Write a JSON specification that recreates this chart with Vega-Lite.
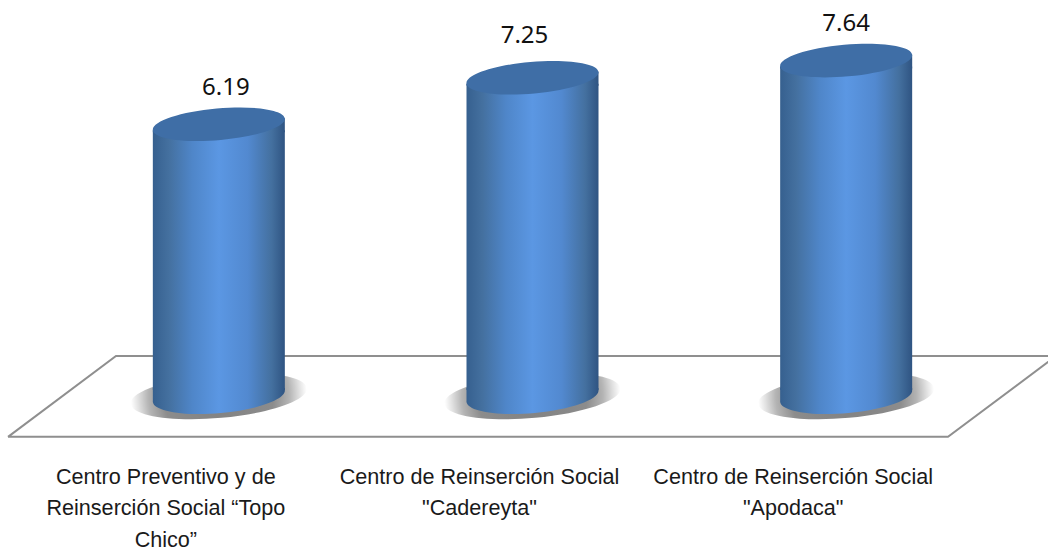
{
"$schema":"https://vega.github.io/schema/vega-lite/v6.json",
"width":1048,"height":550,"padding":0,"autosize":{"type":"none"},
"background":"white",
"config":{"view":{"stroke":null}},
"data":{"values":[
{"centro":"Centro Preventivo y de|Reinserción Social “Topo|Chico”","valor":6.19,"base":0},
{"centro":"Centro de Reinserción Social|\"Cadereyta\"","valor":7.25,"base":0},
{"centro":"Centro de Reinserción Social|\"Apodaca\"","valor":7.64,"base":0}
]},
"encoding":{
"x":{"field":"centro","type":"nominal","sort":null,"axis":null,"scale":{"type":"band","padding":0,"range":[62,1003],"domain":["Centro Preventivo y de|Reinserción Social “Topo|Chico”","Centro de Reinserción Social|\"Cadereyta\"","Centro de Reinserción Social|\"Apodaca\""]}},
"y":{"field":"valor","type":"quantitative","axis":null,"scale":{"domain":[0,9.02],"range":[396,0],"nice":false,"zero":false}}
},
"layer":[
{"data":{"values":[{"fx":8,"fy":-0.93,"o":1},{"fx":116,"fy":0.91,"o":2},{"fx":1056,"fy":0.91,"o":3},{"fx":948,"fy":-0.93,"o":4},{"fx":8,"fy":-0.93,"o":5}]},
 "mark":{"type":"line","stroke":"#8f8f8f","strokeWidth":2,"clip":false},
 "encoding":{"x":{"field":"fx","type":"quantitative","axis":null,"scale":{"domain":[0,1048],"range":[0,1048],"nice":false,"zero":false}},"y":{"field":"fy","type":"quantitative"},"order":{"field":"o","type":"quantitative"}}},
{"mark":{"type":"point","filled":true,"opacity":1,"stroke":null,"strokeWidth":0,"shape":"M-1,0.09 A1.004,0.25 -5 1 1 1,-0.09 A1.004,0.25 -5 1 1 -1,0.09 Z","size":31000,"fill":{"gradient":"radial","x1":0.5,"y1":0.5,"r1":0,"x2":0.5,"y2":0.5,"r2":0.5,"stops":[{"offset":0,"color":"#808080"},{"offset":0.62,"color":"#8c8c8c"},{"offset":0.8,"color":"#b4b4b4"},{"offset":0.92,"color":"#e2e2e2"},{"offset":1,"color":"#ffffff"}]}},
 "encoding":{"y":{"field":"base","type":"quantitative"}}},
{"mark":{"type":"bar","width":132,"yOffset":6,"y2Offset":-6,"fill":{"gradient":"linear","x1":0,"y1":0,"x2":1,"y2":0,"stops":[{"offset":0,"color":"#36608f"},{"offset":0.12,"color":"#44709f"},{"offset":0.3,"color":"#4f86c9"},{"offset":0.5,"color":"#5b97e3"},{"offset":0.72,"color":"#5289d0"},{"offset":0.9,"color":"#44709f"},{"offset":1,"color":"#2f5482"}]}},
 "encoding":{"y2":{"field":"base"},"x":{"field":"centro","type":"nominal","sort":null,"scale":{"type":"band","padding":0,"range":[62,1003],"domain":["Centro Preventivo y de|Reinserción Social “Topo|Chico”","Centro de Reinserción Social|\"Cadereyta\"","Centro de Reinserción Social|\"Apodaca\""]},
  "title":null,"axis":{"domain":false,"ticks":false,"grid":false,"offset":-84,"labelAngle":0,"labelPadding":0,"labelOffset":-53,"labelAlign":"center","labelBaseline":"top","labelFont":"Liberation Sans","labelFontSize":21.6,"labelColor":"#1a1a1a","labelLineHeight":31.5,"labelLimit":500,"labelOverlap":false,"labelBound":false,"labelFlush":false,"labelExpr":"split(datum.label,'|')"}}}},
{"mark":{"type":"point","filled":true,"opacity":1,"shape":"M-1,0.09 A1.004,0.26 -5 1 1 1,-0.09 A1.004,0.26 -5 1 1 -1,0.09 Z M-1,0.09 L-1,-0.12 L1,-0.12 L1,-0.09 Z","size":17424,"fill":{"gradient":"linear","x1":0,"y1":0,"x2":1,"y2":0,"stops":[{"offset":0,"color":"#36608f"},{"offset":0.12,"color":"#44709f"},{"offset":0.3,"color":"#4f86c9"},{"offset":0.5,"color":"#5b97e3"},{"offset":0.72,"color":"#5289d0"},{"offset":0.9,"color":"#44709f"},{"offset":1,"color":"#2f5482"}]}},
 "encoding":{"y":{"field":"base","type":"quantitative"}}},
{"mark":{"type":"point","filled":true,"opacity":1,"shape":"M-1,0.09 L1,-0.09 L1,0.12 L-1,0.12 Z","size":17424,"fill":{"gradient":"linear","x1":0,"y1":0,"x2":1,"y2":0,"stops":[{"offset":0,"color":"#36608f"},{"offset":0.12,"color":"#44709f"},{"offset":0.3,"color":"#4f86c9"},{"offset":0.5,"color":"#5b97e3"},{"offset":0.72,"color":"#5289d0"},{"offset":0.9,"color":"#44709f"},{"offset":1,"color":"#2f5482"}]}}},
{"mark":{"type":"point","filled":true,"opacity":1,"shape":"M-1,0.09 A1.004,0.24 -5 1 1 1,-0.09 A1.004,0.24 -5 1 1 -1,0.09 Z","size":17424,"fill":"#3f6ea6"}},
{"transform":[{"filter":"datum.valor==6.19"}],"mark":{"type":"text","font":"Noto Sans","fontSize":24,"color":"#111111","dx":7,"dy":-36},"encoding":{"text":{"field":"valor","type":"quantitative","format":".2f"}}},
{"transform":[{"filter":"datum.valor==7.25"}],"mark":{"type":"text","font":"Noto Sans","fontSize":24,"color":"#111111","dx":-8,"dy":-42},"encoding":{"text":{"field":"valor","type":"quantitative","format":".2f"}}},
{"transform":[{"filter":"datum.valor==7.64"}],"mark":{"type":"text","font":"Noto Sans","fontSize":24,"color":"#111111","dx":0,"dy":-37},"encoding":{"text":{"field":"valor","type":"quantitative","format":".2f"}}}
],
"resolve":{"scale":{"x":"independent"}}
}
